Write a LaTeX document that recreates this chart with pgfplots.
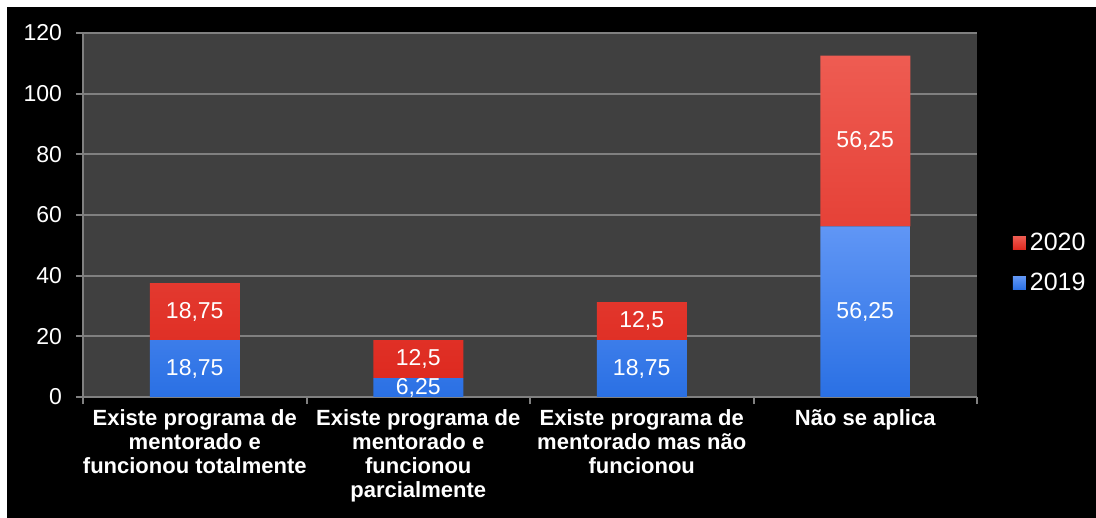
\documentclass[border=0pt]{standalone}
\usepackage{fontspec}
\setmainfont{Liberation Sans}
\usepackage{pgfplots}
\pgfplotsset{compat=1.18}
\definecolor{plotbg}{RGB}{64,64,64}
\definecolor{gridc}{RGB}{128,128,128}
\definecolor{redtop}{RGB}{238,92,82}
\definecolor{redbot}{RGB}{222,42,32}
\definecolor{bluetop}{RGB}{96,150,245}
\definecolor{bluebot}{RGB}{42,112,228}
\begin{document}
\begin{tikzpicture}
\fill[white] (0,0) rectangle (548pt,259pt);
\fill[black] (3.5pt,0) rectangle (548pt,255.5pt);
\begin{axis}[
  at={(41.5pt,60.5pt)}, anchor=south west,
  scale only axis, width=447pt, height=182pt,
  ybar stacked, bar width=45pt,
  xmin=-0.5, xmax=3.5, ymin=0, ymax=120,
  ytick={0,20,...,120},
  xtick={-0.5,0.5,1.5,2.5,3.5},
  xticklabels={},
  extra x ticks={0,1,2,3},
  extra x tick labels={{Existe programa de\\mentorado e\\funcionou totalmente},
    {Existe programa de\\mentorado e\\funcionou\\parcialmente},
    {Existe programa de\\mentorado mas não\\funcionou},
    {Não se aplica}},
  extra x tick style={major tick length=0pt},
  axis background/.style={fill=plotbg},
  ymajorgrids, grid style={gridc, line width=1pt},
  axis x line*=bottom, axis y line*=left,
  axis line style={gridc, line width=1pt, -},
  tick align=outside,
  major tick length=3.5pt,
  tick style={gridc, line width=1pt},
  /pgf/number format/assume math mode=true,
  /pgf/number format/use comma,
  yticklabel style={text=white, font=\fontsize{11.5}{12}\selectfont, xshift=-3.5pt},
  xticklabel style={text=white, font=\fontsize{11}{12}\selectfont\bfseries, align=center, yshift=-2.5pt},
  visualization depends on={rawy \as \rawy},
  nodes near coords={\pgfmathprintnumber{\rawy}},
  every node near coord/.append style={text=white, font=\fontsize{11.5}{12}\selectfont,
    anchor=center},
  legend style={at={(1.033,0.368)}, anchor=west, draw=none, fill=none,
    text=white, font=\fontsize{12.5}{14}\selectfont, row sep=6pt},
  reverse legend,
  legend image code/.code={\path[#1] (0pt,-3.25pt) rectangle (6.5pt,3.25pt);},
]
\addplot[draw=none, top color=bluetop, bottom color=bluebot] coordinates {(0,18.75) (1,6.25) (2,18.75) (3,56.25)};
\addlegendentry{2019}
\addplot[draw=none, top color=redtop, bottom color=redbot] coordinates {(0,18.75) (1,12.5) (2,12.5) (3,56.25)};
\addlegendentry{2020}
\end{axis}
\end{tikzpicture}
\end{document}
